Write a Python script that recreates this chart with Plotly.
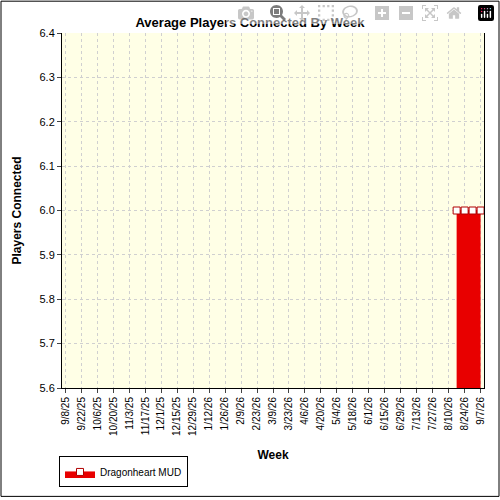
import plotly.graph_objects as go
import pandas as pd

weeks = pd.date_range("2025-09-08", "2026-09-07", freq="7D")
players = [None] * (len(weeks) - 4) + [6.0, 6.0, 6.0, 6.0]
tick_dates = weeks[::2]
tick_labels = [f"{d.month}/{d.day}/{d.strftime('%y')}" for d in tick_dates]

fig = go.Figure()
fig.add_trace(go.Scatter(x=weeks, y=players, mode='lines+markers', name='Dragonheart MUD',
                         fill='tozeroy', fillcolor='#E80000',
                         line=dict(color='#E80000', width=1),
                         marker=dict(symbol='square', size=7, color='white',
                                     line=dict(color='#B00000', width=1))))

L, R, T, B = 62, 16, 33, 110
W = 500 - L - R
H = 500 - T - B
fig.update_layout(
    width=500, height=500, margin=dict(l=L, r=R, t=T, b=B),
    paper_bgcolor='white', plot_bgcolor='#FFFFE6',
    font=dict(family='Liberation Sans, Arial', size=11, color='black'),
    title=dict(text='<b>Average Players Connected By Week</b>', x=0.5, y=0.965,
               font=dict(size=13)),
    showlegend=True,
    legend=dict(x=-3/W, y=-(B - 10) / H, xanchor='left', yanchor='bottom',
                orientation='h', bordercolor='black', borderwidth=1,
                font=dict(size=10)),
    shapes=[dict(type='rect', xref='paper', yref='paper',
                 x0=-(L - 1) / W, x1=1 + (R - 1) / W, y0=-(B - 1) / H, y1=1 + (T - 1) / H,
                 line=dict(color='black', width=1))],
)
fig.update_xaxes(range=[weeks[0] - pd.Timedelta(days=3), weeks[-1] + pd.Timedelta(days=3)],
                 tickvals=tick_dates, ticktext=tick_labels, tickangle=-90,
                 tickfont=dict(size=10),
                 showgrid=True, gridcolor='#D0D0D0', griddash='dot',
                 ticks='outside', ticklen=4, showline=True, linecolor='black',
                 title=dict(text='<b>Week</b>', font=dict(size=12)))
fig.update_yaxes(range=[5.6, 6.4], dtick=0.1, tickformat='.1f',
                 showgrid=True, gridcolor='#D0D0D0', griddash='dot',
                 ticks='outside', ticklen=4, showline=True, linecolor='black',
                 mirror=True,
                 title=dict(text='<b>Players Connected</b>', font=dict(size=12)))
fig.write_html("out.html", post_script="document.body.style.margin='0';")
